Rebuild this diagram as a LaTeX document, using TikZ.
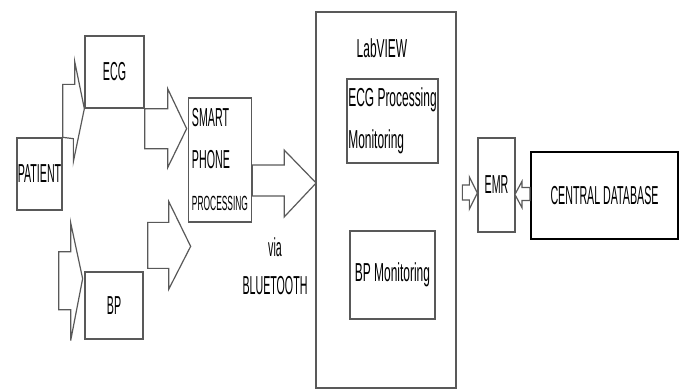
\documentclass[tikz,border=0pt]{standalone}
\usepackage{fontspec}
\setmainfont{Liberation Sans}
\newfontfamily\capsfont[FakeStretch=0.41]{Liberation Sans}
\newfontfamily\mixfont[FakeStretch=0.46]{Liberation Sans}

\tikzset{
  box/.style={draw=black!65, line width=1.3pt, inner sep=0pt, fill=white,
    font=\capsfont\fontsize{26}{42}\selectfont},
  mixbox/.style={box, font=\mixfont\fontsize{26}{42}\selectfont},
  txt/.style={inner sep=0pt, font=\capsfont\fontsize{26}{38}\selectfont},
  blockarr/.style={draw=black!65, line width=1.2pt, fill=white, line join=miter}
}

\begin{document}
\begin{tikzpicture}[x=1pt,y=-1pt]
\useasboundingbox (0,0) rectangle (683,391);

% sensors
\node[box, minimum width=45pt, minimum height=72pt] (patient) at (39.5,174) {PATIENT};
\node[box, minimum width=59pt, minimum height=72pt] (ecg) at (114.5,72) {ECG};
\node[box, minimum width=58pt, minimum height=67pt] (bp) at (114,305.5) {BP};
\node[box, minimum width=63pt, minimum height=124pt, align=left] (smart) at (220,160)
  {SMART\\PHONE\\{\fontsize{20.5}{42}\selectfont PROCESSING}};
\node[txt, align=center] (bluetooth) at (275,266) {via\\BLUETOOTH};

% LabVIEW side
\node[box, minimum width=140pt, minimum height=376pt] (labview) at (386,200) {};
\node[txt, font=\mixfont\fontsize{26}{38}\selectfont] (lvname) at (382,48) {LabVIEW};
\node[mixbox, minimum width=91pt, minimum height=84pt, align=left] (ecgproc) at (392.5,121)
  {ECG Processing\\Monitoring};
\node[mixbox, minimum width=85pt, minimum height=88pt] (bpmon) at (392.5,275) {BP Monitoring};
\node[box, minimum width=37pt, minimum height=94pt] (emr) at (496.5,185) {EMR};
\node[box, draw=black, line width=2.2pt, minimum width=147pt, minimum height=87pt] (db) at (604.5,195.5)
  {CENTRAL DATABASE};

% block arrows
\draw[blockarr] (patient.north east) -- ++(0,-53) -- ++(12,0) -- ++(0,-23)
  -- (ecg.south west) -- ++(-11,53) -- ++(0,-23) -- cycle;
\draw[blockarr] (patient.south east) ++(-4,41) -- ++(12,0) -- ++(0,-29)
  -- ++(12,56) -- ++(-12,62) -- ++(0,-31) -- ++(-12,0) -- cycle;
\draw[blockarr] (ecg.south east) -- ++(23,0) -- ++(0,-20) -- ++(19,40)
  -- ++(-19,39) -- ++(0,-19) -- ++(-23,0) -- cycle;
\draw[blockarr] (bp.north east) ++(4,-49) -- ++(21,0) -- ++(0,-21) -- ++(22,45)
  -- ++(-22,43) -- ++(0,-21) -- ++(-21,0) -- cycle;
\draw[blockarr] (smart.east) ++(0,5) -- ++(32,0) -- ++(0,-15) -- ++(32,33)
  -- ++(-32,34) -- ++(0,-21) -- ++(-32,0) -- cycle;
\draw[blockarr] (emr.west) ++(-15,0) -- ++(7,0) -- ++(0,-8) -- ++(8,16)
  -- ++(-8,16) -- ++(0,-9) -- ++(-7,0) -- cycle;
\draw[blockarr] (db.west) ++(0,-8) -- ++(-8,0) -- ++(0,-6) -- ++(-7,13)
  -- ++(7,13) -- ++(0,-7) -- ++(8,0) -- cycle;
\end{tikzpicture}
\end{document}
